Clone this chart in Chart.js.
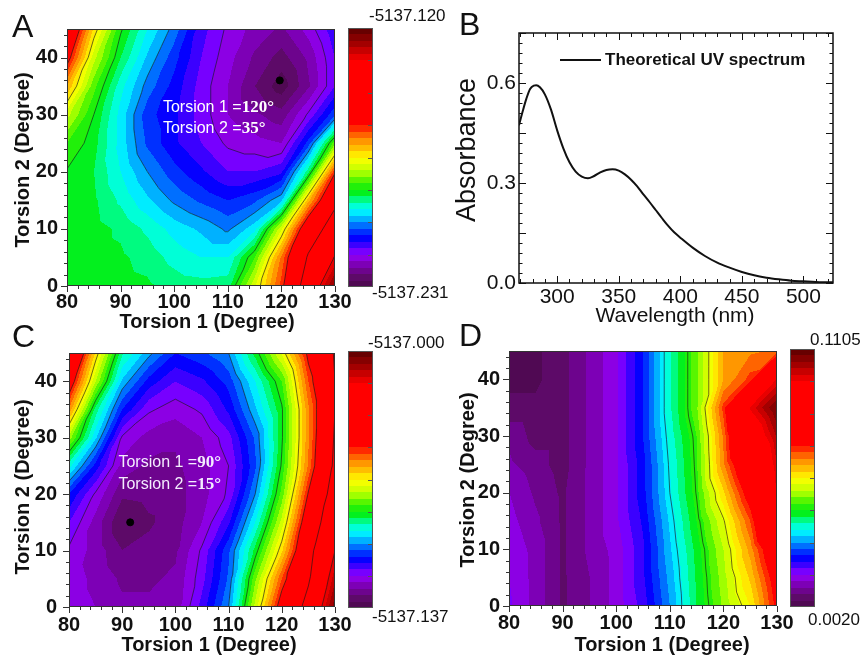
<!DOCTYPE html>
<html>
<head>
<meta charset="utf-8">
<script src="https://cdn.jsdelivr.net/npm/chart.js@4.4.1/dist/chart.umd.min.js"></script>
<style>
  body { margin: 0; background: #fff; }
  #wrap { position: relative; width: 866px; height: 656px; overflow: hidden; background: #fff; }
  canvas { position: absolute; }
  .panel { position: absolute; font: 32px "Liberation Sans", Arial, sans-serif; line-height: 1; color: #111; }
</style>
</head>
<body>
<div id="wrap">
  <canvas id="chartA" width="460" height="340" style="left:0;top:0;width:460px;height:340px"></canvas>
  <canvas id="chartB" width="436" height="330" style="left:430px;top:0;width:436px;height:330px"></canvas>
  <canvas id="chartC" width="460" height="326" style="left:0;top:330px;width:460px;height:326px"></canvas>
  <canvas id="chartD" width="436" height="326" style="left:430px;top:330px;width:436px;height:326px"></canvas>
  <div class="panel" style="left:12px;top:10px">A</div>
  <div class="panel" style="left:459px;top:8px">B</div>
  <div class="panel" style="left:12px;top:320px">C</div>
  <div class="panel" style="left:459px;top:319px">D</div>
</div>
<script>
// grid of the torsion scans (degrees)
const torsion1 = [80, 85, 90, 95, 100, 105, 110, 115, 120, 125, 130];
const torsion2 = [0, 5, 10, 15, 20, 25, 30, 35, 40, 45];

// A: energy in mHartree above -5137.231 Ha, one row per torsion2 value
const energyA = [
  [40.5, 40.0, 40.0, 39.4, 37.7, 37.2, 37.7, 52.2, 67.7, 89.9, 106.6],
  [40.5, 40.0, 39.4, 37.7, 35.0, 33.3, 33.3, 44.4, 64.4, 84.4, 97.7],
  [40.5, 40.0, 38.3, 35.5, 32.2, 30.0, 27.2, 32.2, 52.2, 76.6, 88.8],
  [40.8, 39.4, 35.5, 31.1, 27.2, 24.4, 22.2, 24.4, 30.0, 59.9, 81.0],
  [41.3, 38.9, 33.3, 27.8, 23.3, 20.0, 16.7, 16.7, 18.9, 37.7, 68.8],
  [44.4, 40.0, 32.2, 24.4, 20.0, 16.7, 13.3, 12.2, 11.1, 23.3, 46.6],
  [51.1, 41.6, 32.2, 23.3, 20.0, 15.5, 11.1, 8.9, 6.7, 14.4, 24.4],
  [61.1, 45.5, 34.4, 26.6, 21.1, 15.5, 11.1, 5.6, 1.1, 7.8, 16.7],
  [72.2, 51.1, 38.9, 30.0, 23.3, 16.7, 12.2, 7.8, 4.4, 8.9, 16.7],
  [79.9, 57.7, 42.2, 33.3, 26.6, 17.8, 13.3, 10.0, 7.8, 12.2, 18.9]
];
const levelsA = [13.9, 27.8, 41.6, 55.5, 69.4, 83.3, 97.1];

// C: energy in mHartree above -5137.137 Ha
const energyC = [
  [15.1, 13.7, 11.0, 11.0, 11.6, 21.9, 34.3, 63.0, 90.4, 106.9, 132.9],
  [15.1, 13.0, 9.6, 9.6, 11.0, 19.2, 31.5, 57.5, 82.2, 101.4, 126.0],
  [16.4, 12.3, 6.9, 8.2, 9.6, 17.8, 30.1, 49.3, 71.2, 98.6, 119.9],
  [20.6, 12.3, 3.4, 6.2, 8.9, 13.7, 23.3, 41.1, 63.0, 93.2, 113.7],
  [27.4, 16.4, 7.5, 8.2, 8.9, 12.3, 17.8, 34.3, 56.2, 86.3, 109.6],
  [42.5, 26.0, 12.3, 9.6, 9.6, 12.3, 17.1, 30.1, 52.1, 79.5, 105.5],
  [60.3, 38.4, 16.4, 12.3, 11.0, 13.7, 19.2, 31.5, 50.7, 78.1, 104.1],
  [78.1, 46.6, 27.4, 17.8, 15.1, 17.8, 24.7, 37.0, 50.7, 78.1, 102.8],
  [91.8, 61.7, 37.0, 26.0, 20.6, 23.3, 28.8, 41.1, 54.8, 82.2, 102.8],
  [104.1, 71.2, 45.2, 35.6, 27.4, 30.1, 34.3, 49.3, 65.8, 87.7, 104.1]
];
const levelsC = [17.1, 34.3, 51.4, 68.5, 85.6, 102.8, 119.9];

// D: property value
const valueD = [
  [0.0161, 0.0118, 0.0069, 0.0101, 0.0139, 0.0194, 0.0291, 0.0400, 0.0487, 0.0563, 0.0714],
  [0.0156, 0.0118, 0.0069, 0.0101, 0.0139, 0.0204, 0.0302, 0.0405, 0.0497, 0.0595, 0.0736],
  [0.0150, 0.0118, 0.0069, 0.0107, 0.0139, 0.0204, 0.0313, 0.0411, 0.0508, 0.0628, 0.0780],
  [0.0139, 0.0107, 0.0069, 0.0107, 0.0150, 0.0215, 0.0324, 0.0427, 0.0535, 0.0671, 0.0888],
  [0.0129, 0.0096, 0.0069, 0.0107, 0.0150, 0.0226, 0.0340, 0.0443, 0.0584, 0.0736, 0.0975],
  [0.0107, 0.0085, 0.0063, 0.0107, 0.0150, 0.0226, 0.0346, 0.0449, 0.0638, 0.0801, 0.0997],
  [0.0096, 0.0063, 0.0063, 0.0107, 0.0150, 0.0237, 0.0356, 0.0454, 0.0649, 0.0888, 0.1029],
  [0.0053, 0.0053, 0.0063, 0.0107, 0.0150, 0.0237, 0.0367, 0.0476, 0.0682, 0.0975, 0.1083],
  [0.0042, 0.0042, 0.0063, 0.0107, 0.0150, 0.0237, 0.0367, 0.0476, 0.0617, 0.0682, 0.0975],
  [0.0042, 0.0042, 0.0063, 0.0107, 0.0150, 0.0237, 0.0367, 0.0476, 0.0617, 0.0638, 0.0649]
];
const levelsD = [0.034, 0.044, 0.054];

// B: theoretical UV spectrum
const wavelength = [269, 272, 275, 278, 281, 283, 286, 290, 295, 300, 305, 310, 315, 320, 325, 330, 335, 340,
  345, 350, 355, 360, 365, 370, 375, 380, 385, 390, 395, 400, 410, 420, 430, 440, 450, 460, 470, 480, 490,
  500, 510, 520, 524];
const absorbance = [0.473, 0.515, 0.553, 0.582, 0.592, 0.593, 0.587, 0.566, 0.520, 0.458, 0.404, 0.362, 0.334,
  0.319, 0.314, 0.321, 0.332, 0.339, 0.341, 0.337, 0.326, 0.310, 0.290, 0.266, 0.243, 0.219, 0.195, 0.172,
  0.152, 0.136, 0.106, 0.081, 0.061, 0.046, 0.033, 0.023, 0.016, 0.011, 0.007, 0.005, 0.003, 0.002, 0.002];

const torsionTicksX = [80, 90, 100, 110, 120, 130];
const torsionTicksY = [0, 10, 20, 30, 40];
const uvTicksX = [300, 350, 400, 450, 500];
const uvTicksY = [0, 0.3, 0.6];

const SANS = "'Liberation Sans', Arial, sans-serif";
const SERIF = "'Liberation Serif', 'Times New Roman', serif";

// rainbow colour map, cut in discrete bands like the original contour plot
const cmapStops = [
  [0.00, '#4a0848'], [0.04, '#5e0a6a'], [0.08, '#7800a8'], [0.11, '#8c00e0'], [0.13, '#8a00ff'],
  [0.16, '#4000ff'], [0.19, '#0000ff'], [0.22, '#0040ff'], [0.25, '#0090ff'], [0.28, '#00e0ff'],
  [0.30, '#00ffff'], [0.33, '#00ffa0'], [0.36, '#00f020'], [0.40, '#30f000'], [0.43, '#90ff00'],
  [0.47, '#e0ff00'], [0.50, '#ffff00'], [0.53, '#ffc800'], [0.57, '#ff8c00'], [0.60, '#ff4800'],
  [0.63, '#ff0000'], [0.87, '#ff0000'], [0.90, '#d80000'], [0.94, '#a00000'], [1.00, '#580000']
];
const NB = 40;

function hexRGB(h) {
  return [parseInt(h.slice(1, 3), 16), parseInt(h.slice(3, 5), 16), parseInt(h.slice(5, 7), 16)];
}
function cmap(t) {
  for (let k = 1; k < cmapStops.length; k++) {
    if (t <= cmapStops[k][0]) {
      const [t0, c0] = cmapStops[k - 1], [t1, c1] = cmapStops[k];
      const f = (t - t0) / (t1 - t0), a = hexRGB(c0), b = hexRGB(c1);
      return a.map((v, i) => Math.round(v + f * (b[i] - v)));
    }
  }
  return hexRGB(cmapStops[cmapStops.length - 1][1]);
}
const bands = Array.from({ length: NB }, (_, k) => cmap((k + 0.5) / NB));
function bandAt(t) {
  return bands[Math.max(0, Math.min(NB - 1, Math.floor(t * NB)))];
}

// linear interpolation inside the two triangles of each grid cell
function fieldAt(grid, x, y) {
  let i = 0; while (i < torsion1.length - 2 && x > torsion1[i + 1]) i++;
  let j = 0; while (j < torsion2.length - 2 && y > torsion2[j + 1]) j++;
  const u = (x - torsion1[i]) / (torsion1[i + 1] - torsion1[i]);
  const v = (y - torsion2[j]) / (torsion2[j + 1] - torsion2[j]);
  const f00 = grid[j][i], f10 = grid[j][i + 1], f01 = grid[j + 1][i], f11 = grid[j + 1][i + 1];
  return u >= v ? f00 + u * (f10 - f00) + v * (f11 - f10) : f00 + v * (f01 - f00) + u * (f11 - f01);
}

function contourLines(ctx, grid, levels, sx, sy) {
  ctx.beginPath();
  for (let j = 0; j < torsion2.length - 1; j++) {
    for (let i = 0; i < torsion1.length - 1; i++) {
      const p00 = [torsion1[i], torsion2[j], grid[j][i]];
      const p10 = [torsion1[i + 1], torsion2[j], grid[j][i + 1]];
      const p01 = [torsion1[i], torsion2[j + 1], grid[j + 1][i]];
      const p11 = [torsion1[i + 1], torsion2[j + 1], grid[j + 1][i + 1]];
      for (const tri of [[p00, p10, p11], [p00, p01, p11]]) {
        for (const L of levels) {
          const pts = [];
          for (const [a, b] of [[tri[0], tri[1]], [tri[1], tri[2]], [tri[2], tri[0]]]) {
            if ((a[2] > L) !== (b[2] > L)) {
              const f = (L - a[2]) / (b[2] - a[2]);
              pts.push([a[0] + f * (b[0] - a[0]), a[1] + f * (b[1] - a[1])]);
            }
          }
          if (pts.length === 2) {
            ctx.moveTo(sx.getPixelForValue(pts[0][0]), sy.getPixelForValue(pts[0][1]));
            ctx.lineTo(sx.getPixelForValue(pts[1][0]), sy.getPixelForValue(pts[1][1]));
          }
        }
      }
    }
  }
  ctx.stroke();
}

function contourChart(cfg) {
  const fieldPlugin = {
    id: 'field',
    beforeDatasetsDraw(chart) {
      const { ctx, chartArea: a } = chart;
      const sx = chart.scales.x, sy = chart.scales.y;
      const w = Math.round(a.right - a.left), h = Math.round(a.bottom - a.top);
      const off = document.createElement('canvas');
      off.width = w; off.height = h;
      const octx = off.getContext('2d');
      const img = octx.createImageData(w, h);
      for (let py = 0; py < h; py++) {
        const vy = sy.getValueForPixel(a.top + py + 0.5);
        for (let px = 0; px < w; px++) {
          const vx = sx.getValueForPixel(a.left + px + 0.5);
          const t = (fieldAt(cfg.grid, vx, vy) - cfg.min) / (cfg.max - cfg.min);
          const c = bandAt(t), o = (py * w + px) * 4;
          img.data[o] = c[0]; img.data[o + 1] = c[1]; img.data[o + 2] = c[2]; img.data[o + 3] = 255;
        }
      }
      octx.putImageData(img, 0, 0);
      ctx.drawImage(off, a.left, a.top);

      ctx.save();
      ctx.beginPath(); ctx.rect(a.left, a.top, w, h); ctx.clip();
      ctx.strokeStyle = 'rgba(25,25,25,0.8)';
      ctx.lineWidth = 0.8;
      contourLines(ctx, cfg.grid, cfg.levels, sx, sy);
      ctx.restore();

      // frame and outward ticks
      ctx.save();
      ctx.strokeStyle = '#333'; ctx.lineWidth = 1;
      ctx.strokeRect(a.left + 0.5, a.top + 0.5, w - 1, h - 1);
      ctx.beginPath();
      for (let v = 80; v <= 130; v += 2) {
        const px = Math.round(sx.getPixelForValue(v)) + 0.5;
        ctx.moveTo(px, a.bottom); ctx.lineTo(px, a.bottom + (v % 10 === 0 ? 6 : 3));
      }
      for (let v = 0; v <= 44; v += 2) {
        const py = Math.round(sy.getPixelForValue(v)) + 0.5;
        ctx.moveTo(a.left, py); ctx.lineTo(a.left - (v % 10 === 0 ? 6 : 3), py);
      }
      ctx.stroke();

      // colour bar
      const b = cfg.bar;
      for (let py = 0; py < b.h; py++) {
        const c = bandAt(1 - (py + 0.5) / b.h);
        ctx.fillStyle = `rgb(${c[0]},${c[1]},${c[2]})`;
        ctx.fillRect(b.x, b.y + py, b.w, 1);
      }
      ctx.strokeStyle = '#555';
      ctx.strokeRect(b.x + 0.5, b.y + 0.5, b.w - 1, b.h - 1);
      ctx.beginPath();
      for (let k = 1; k < 8; k++) {
        const ty = Math.round(b.y + b.h * (1 - k / 8)) + 0.5;
        ctx.moveTo(b.x + b.w - 5, ty); ctx.lineTo(b.x + b.w, ty);
      }
      ctx.stroke();
      ctx.restore();
    },
    afterDatasetsDraw(chart) {
      const { ctx } = chart;
      const sx = chart.scales.x, sy = chart.scales.y;
      ctx.save();
      ctx.fillStyle = '#111';
      ctx.textBaseline = 'middle';
      ctx.font = '17px ' + SANS;
      ctx.textAlign = 'left';
      ctx.fillText(cfg.barTop.text, cfg.barTop.x, cfg.barTop.y);
      ctx.fillText(cfg.barBottom.text, cfg.barBottom.x, cfg.barBottom.y);

      ctx.font = 'bold 20px ' + SANS;
      ctx.textAlign = 'center';
      ctx.fillText('Torsion 1 (Degree)', cfg.xTitle[0], cfg.xTitle[1]);
      ctx.save();
      ctx.translate(cfg.yTitle[0], cfg.yTitle[1]);
      ctx.rotate(-Math.PI / 2);
      ctx.fillText('Torsion 2 (Degree)', 0, 0);
      ctx.restore();

      if (cfg.note) {
        const n = cfg.note;
        ctx.fillStyle = n.color;
        ctx.textAlign = 'left';
        const x0 = sx.getPixelForValue(n.x);
        [[n.y1, 'Torsion 1 =', n.t1], [n.y2, 'Torsion 2 =', n.t2]].forEach(([yv, lead, deg]) => {
          const py = sy.getPixelForValue(yv);
          ctx.font = '16px ' + SANS;
          ctx.fillText(lead, x0, py);
          const wl = ctx.measureText(lead).width;
          ctx.font = 'bold 17px ' + SERIF;
          ctx.fillText(deg, x0 + wl, py);
        });
      }
      ctx.restore();
    }
  };

  return new Chart(document.getElementById(cfg.canvas), {
    type: 'scatter',
    data: {
      datasets: [{
        data: cfg.minPoint ? [cfg.minPoint] : [],
        pointRadius: 3.5,
        backgroundColor: '#000',
        borderColor: '#000'
      }]
    },
    options: {
      responsive: false,
      animation: false,
      devicePixelRatio: 1,
      events: [],
      layout: { padding: cfg.padding },
      plugins: { legend: { display: false }, tooltip: { enabled: false } },
      scales: {
        x: {
          type: 'linear', min: 80, max: 130,
          afterBuildTicks: s => { s.ticks = torsionTicksX.map(v => ({ value: v })); },
          afterFit: s => { s.height = cfg.xh; },
          grid: { display: false, drawTicks: false },
          border: { display: false },
          ticks: { padding: cfg.xpad, color: '#111', autoSkip: false, maxRotation: 0,
                   font: { family: SANS, size: 20, weight: 'bold', lineHeight: 1 } }
        },
        y: {
          type: 'linear', min: 0, max: 45,
          afterBuildTicks: s => { s.ticks = torsionTicksY.map(v => ({ value: v })); },
          afterFit: s => { s.width = cfg.yw; },
          grid: { display: false, drawTicks: false },
          border: { display: false },
          ticks: { padding: cfg.ypad, color: '#111', autoSkip: false,
                   font: { family: SANS, size: 20, weight: 'bold', lineHeight: 1 } }
        }
      }
    },
    plugins: [fieldPlugin]
  });
}

contourChart({
  canvas: 'chartA', grid: energyA, min: 0, max: 111, levels: levelsA,
  minPoint: { x: 119.7, y: 36 },
  padding: { left: 0, top: 29, right: 125, bottom: 0 }, xh: 54, yw: 67, xpad: 6, ypad: 9,
  xTitle: [207, 322], yTitle: [23, 160],
  bar: { x: 348, y: 28, w: 25, h: 259 },
  barTop: { text: '-5137.120', x: 369, y: 16 },
  barBottom: { text: '-5137.231', x: 372, y: 293 },
  note: { x: 97.9, y1: 31.3, y2: 27.6, t1: '120°', t2: '35°', color: '#ffffff' }
});

contourChart({
  canvas: 'chartC', grid: energyC, min: 0, max: 137, levels: levelsC,
  minPoint: { x: 91.5, y: 15 },
  padding: { left: 0, top: 23, right: 125, bottom: 0 }, xh: 49, yw: 69, xpad: 8, ypad: 12,
  xTitle: [209, 315], yTitle: [23, 157],
  bar: { x: 348, y: 21, w: 25, h: 257 },
  barTop: { text: '-5137.000', x: 368, y: 13 },
  barBottom: { text: '-5137.137', x: 372, y: 287 },
  note: { x: 89.3, y1: 25.5, y2: 21.6, t1: '90°', t2: '15°', color: '#f4ecff' }
});

contourChart({
  canvas: 'chartD', grid: valueD, min: 0.0020, max: 0.1105, levels: levelsD,
  minPoint: null,
  padding: { left: 0, top: 21, right: 89, bottom: 0 }, xh: 50, yw: 79, xpad: 7, ypad: 9,
  xTitle: [232, 315], yTitle: [38, 150],
  bar: { x: 360, y: 19, w: 25, h: 258 },
  barTop: { text: '0.1105', x: 380, y: 10 },
  barBottom: { text: '0.0020', x: 378, y: 290 },
  note: null
});

// B: UV spectrum
const uvFrame = {
  id: 'uvFrame',
  afterDatasetsDraw(chart) {
    const { ctx, chartArea: a, scales: { x, y } } = chart;
    ctx.save();
    ctx.strokeStyle = '#111';
    ctx.lineWidth = 1.5;
    ctx.strokeRect(a.left, a.top, a.right - a.left, a.bottom - a.top);
    ctx.lineWidth = 1;
    ctx.beginPath();
    for (let v = 270; v <= 520; v += 10) {
      const px = Math.round(x.getPixelForValue(v)) + 0.5;
      const len = v % 50 === 0 ? 7 : 4;
      ctx.moveTo(px, a.bottom); ctx.lineTo(px, a.bottom - len);
      ctx.moveTo(px, a.top); ctx.lineTo(px, a.top + len);
    }
    for (let k = 0; k <= 25; k++) {
      const py = Math.round(y.getPixelForValue(k * 0.03)) + 0.5;
      const len = k % 5 === 0 ? 7 : 3.5;
      ctx.moveTo(a.left, py); ctx.lineTo(a.left + len, py);
      ctx.moveTo(a.right, py); ctx.lineTo(a.right - len, py);
    }
    ctx.stroke();

    // legend inside the frame
    ctx.lineWidth = 2;
    ctx.beginPath(); ctx.moveTo(130, 60); ctx.lineTo(171, 60); ctx.stroke();
    ctx.fillStyle = '#111';
    ctx.textBaseline = 'middle';
    ctx.textAlign = 'left';
    ctx.font = 'bold 17px ' + SANS;
    ctx.fillText('Theoretical UV spectrum', 175, 60);

    // axis titles
    ctx.textAlign = 'center';
    ctx.font = '21px ' + SANS;
    ctx.fillText('Wavelength (nm)', 245, 316);
    ctx.translate(38, 150);
    ctx.rotate(-Math.PI / 2);
    ctx.font = '27px ' + SANS;
    ctx.fillText('Absorbance', 0, 0);
    ctx.restore();
  }
};

new Chart(document.getElementById('chartB'), {
  type: 'line',
  data: {
    datasets: [{
      label: 'Theoretical UV spectrum',
      data: wavelength.map((w, i) => ({ x: w, y: absorbance[i] })),
      borderColor: '#111',
      borderWidth: 2,
      pointRadius: 0,
      cubicInterpolationMode: 'monotone',
      fill: false
    }]
  },
  options: {
    responsive: false,
    animation: false,
    devicePixelRatio: 1,
    events: [],
    layout: { padding: { left: 0, top: 33, right: 33, bottom: 0 } },
    plugins: { legend: { display: false }, tooltip: { enabled: false } },
    scales: {
      x: {
        type: 'linear', min: 269, max: 524,
        afterBuildTicks: s => { s.ticks = uvTicksX.map(v => ({ value: v })); },
        afterFit: s => { s.height = 47; },
        grid: { display: false, drawTicks: false },
        border: { display: false },
        ticks: { padding: 3.5, color: '#111', autoSkip: false, maxRotation: 0,
                 font: { family: SANS, size: 21, lineHeight: 1 } }
      },
      y: {
        type: 'linear', min: 0, max: 0.75,
        afterBuildTicks: s => { s.ticks = uvTicksY.map(v => ({ value: v })); },
        afterFit: s => { s.width = 89; },
        grid: { display: false, drawTicks: false },
        border: { display: false },
        ticks: { padding: 3, color: '#111', autoSkip: false,
                 callback: v => v.toFixed(1),
                 font: { family: SANS, size: 21, lineHeight: 1 } }
      }
    }
  },
  plugins: [uvFrame]
});
</script>
</body>
</html>
